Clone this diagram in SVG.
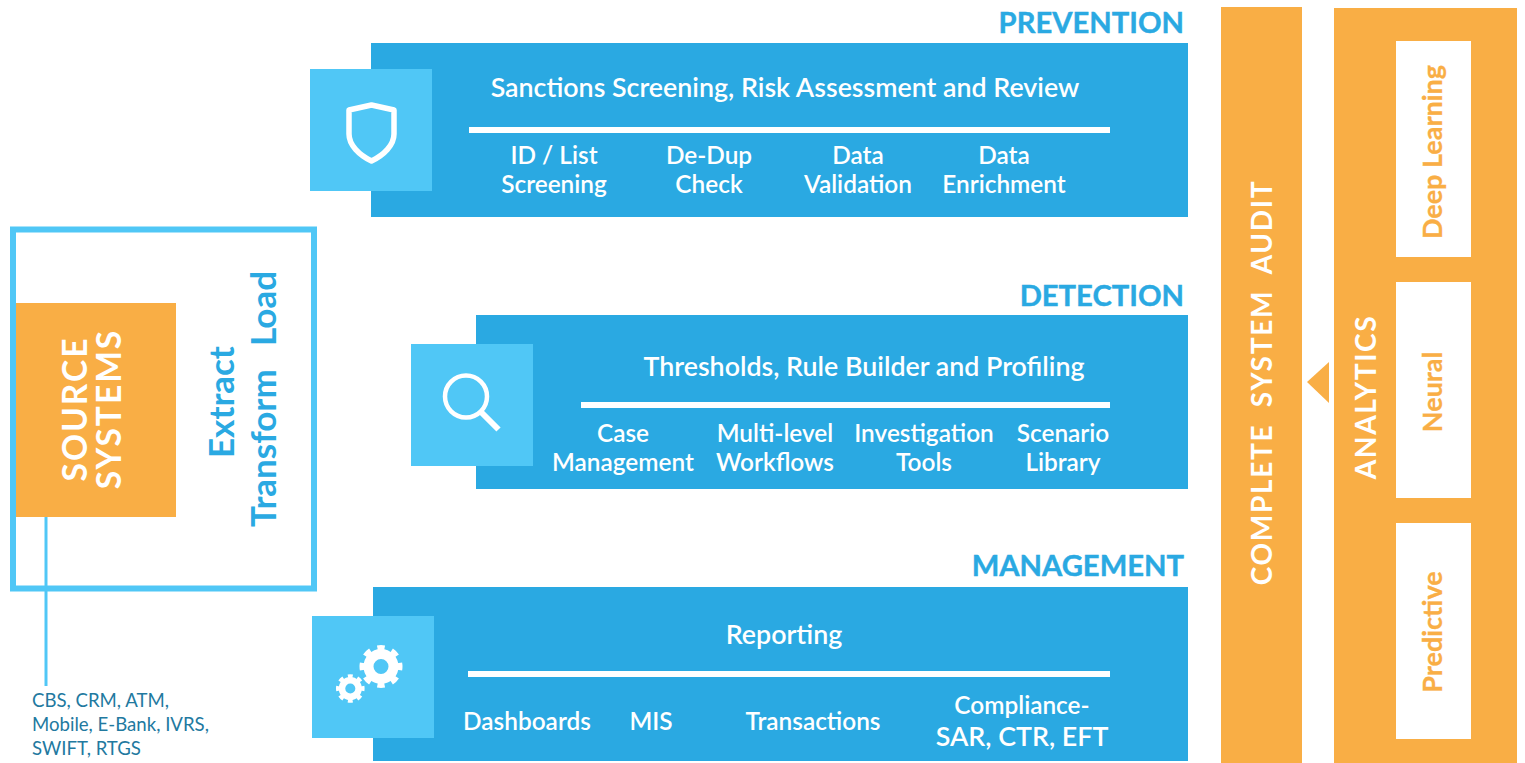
<svg xmlns="http://www.w3.org/2000/svg" width="1525" height="763" viewBox="0 0 1525 763">
<style>
text{font-family:Lato,"Noto Sans",sans-serif}
.band{fill:#2aa9e2}.icon{fill:#50c7f6}.org{fill:#f9ae45}
.w{fill:#fff;font-weight:600;text-anchor:middle;font-size:24.400px}
.h{fill:#fff;font-weight:600;text-anchor:middle;font-size:26.800px}
.t{fill:#2aa9e2;font-weight:700;font-size:29.200px;text-anchor:end;stroke:#2aa9e2;stroke-width:.4px}
.rule{fill:#fff}
.ic{fill:none;stroke:#fff}
.v{fill:#fff;font-weight:700;font-size:31px;text-anchor:middle;letter-spacing:2px}
.o{fill:#f9ae45;font-weight:700;font-size:27px;text-anchor:middle;stroke:#f9ae45;stroke-width:.3px}
.e{fill:#2aa9e2;font-weight:700;font-size:35px}
</style>
<rect width="1525" height="763" fill="#fff"/>
<g id="etl">
<rect x="13" y="229.500" width="301" height="359" fill="none" stroke="#50c7f6" stroke-width="6"/>
<text class="e" transform="translate(234,458) rotate(-90)">Extract</text>
<text class="e" transform="translate(276,527) rotate(-90)">Transform</text>
<text class="e" transform="translate(276,346) rotate(-90)">Load</text>
</g>
<g id="source-systems">
<rect class="org" x="16" y="303" width="160" height="214"/>
<text class="v" style="font-size:33.500px" transform="translate(87,409) rotate(-90)">SOURCE</text>
<text class="v" style="font-size:33.500px" transform="translate(121,409) rotate(-90)">SYSTEMS</text>
</g>
<g id="connectors">
<line x1="46" y1="517" x2="46" y2="686" stroke="#50c7f6" stroke-width="3"/>
<polygon class="org" points="1329,362 1329,403 1307,382"/>
</g>
<g id="source-list" fill="#22799f" font-size="18.600px">
<text x="32" y="707">CBS, CRM, ATM,</text>
<text x="32" y="731">Mobile, E-Bank, IVRS,</text>
<text x="32" y="755">SWIFT, RTGS</text>
</g>
<g id="prevention">
<text class="t" x="1184" y="33">PREVENTION</text>
<rect class="band" x="371" y="43" width="817" height="174"/>
<rect class="icon" x="310" y="69" width="122" height="122"/>
<path class="ic" stroke-width="5.500" stroke-linejoin="round" d="M349 110L371.500 105L394 110V134C394 145 384 155 371.500 161C359 155 349 145 349 134Z"/>
<text class="h" x="785" y="97">Sanctions Screening, Risk Assessment and Review</text>
<rect class="rule" x="469" y="127" width="641" height="6"/>
<text class="w" x="554" y="163.500">ID / List</text><text class="w" x="554" y="192.500">Screening</text>
<text class="w" x="709" y="163.500">De-Dup</text><text class="w" x="709" y="192.500">Check</text>
<text class="w" x="858" y="163.500">Data</text><text class="w" x="858" y="192.500">Validation</text>
<text class="w" x="1004" y="163.500">Data</text><text class="w" x="1004" y="192.500">Enrichment</text>
</g>
<g id="detection">
<text class="t" x="1184" y="306">DETECTION</text>
<rect class="band" x="476" y="315" width="712" height="174"/>
<rect class="icon" x="411" y="344" width="122" height="122"/>
<circle class="ic" cx="466" cy="396.500" r="21" stroke-width="4.500"/>
<line class="ic" x1="481" y1="412" x2="498.500" y2="429.500" stroke-width="6"/>
<text class="h" x="864" y="376">Thresholds, Rule Builder and Profiling</text>
<rect class="rule" x="581" y="402" width="529" height="6"/>
<text class="w" x="623" y="442">Case</text><text class="w" x="623" y="471">Management</text>
<text class="w" x="775" y="442">Multi-level</text><text class="w" x="775" y="471">Workflows</text>
<text class="w" x="924" y="442">Investigation</text><text class="w" x="924" y="471">Tools</text>
<text class="w" x="1063" y="442">Scenario</text><text class="w" x="1063" y="471">Library</text>
</g>
<g id="management">
<text class="t" x="1184" y="576">MANAGEMENT</text>
<rect class="band" x="373" y="587" width="815" height="174"/>
<rect class="icon" x="312" y="616" width="122" height="122"/>
<circle class="ic" cx="381" cy="666.500" r="12.500" stroke-width="10"/>
<circle class="ic" cx="381" cy="666.500" r="19" stroke-width="5" pathLength="8" stroke-dasharray=".5 .5" stroke-dashoffset=".25"/>
<circle class="ic" cx="350.300" cy="688.500" r="8.300" stroke-width="6.500"/>
<circle class="ic" cx="350.300" cy="688.500" r="12.500" stroke-width="3.600" pathLength="8" stroke-dasharray=".5 .5" stroke-dashoffset=".25"/>
<text class="h" x="784" y="644">Reporting</text>
<rect class="rule" x="468" y="671" width="642" height="6"/>
<text class="w" x="527" y="730">Dashboards</text>
<text class="w" x="651" y="730">MIS</text>
<text class="w" x="813" y="730">Transactions</text>
<text class="w" x="1022" y="714">Compliance-</text><text class="h" x="1022" y="746">SAR, CTR, EFT</text>
</g>
<g id="audit">
<rect class="org" x="1221" y="7" width="81" height="756"/>
<text class="v" style="font-size:28px;letter-spacing:1.700px;word-spacing:8px" transform="translate(1272,382.500) rotate(-90)">COMPLETE SYSTEM AUDIT</text>
</g>
<g id="analytics">
<rect class="org" x="1334" y="8" width="183" height="755"/>
<text class="v" style="font-size:28.300px;letter-spacing:1.500px" transform="translate(1376,397) rotate(-90)">ANALYTICS</text>
<rect x="1396" y="41" width="75" height="216" fill="#fff"/>
<rect x="1396" y="282" width="75" height="216" fill="#fff"/>
<rect x="1396" y="523" width="75" height="216" fill="#fff"/>
<text class="o" transform="translate(1442,152) rotate(-90)">Deep Learning</text>
<text class="o" transform="translate(1442,392) rotate(-90)">Neural</text>
<text class="o" transform="translate(1442,632) rotate(-90)">Predictive</text>
</g>
</svg>
